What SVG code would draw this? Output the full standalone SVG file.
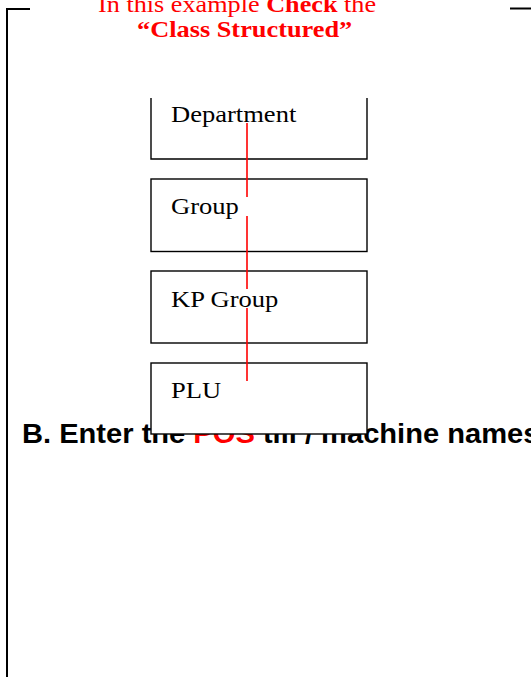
<svg xmlns="http://www.w3.org/2000/svg" width="531" height="677" viewBox="0 0 531 677">
<style>
.box{fill:#fff;stroke:#000;stroke-width:1.4}
.lbl{font-family:"Liberation Serif","Times New Roman",serif;font-size:22.7px;fill:#000}
.title{font-family:"Liberation Serif","Times New Roman",serif;font-size:22.7px;fill:#f00}
.frame{stroke:#000;stroke-width:2;fill:none}
.conn{stroke:#f00;stroke-width:1.6;fill:none}
.head{font-family:"Liberation Sans",Arial,sans-serif;font-weight:bold;font-size:27px;fill:#000}
</style>
<rect width="531" height="677" fill="#fff"/>
<g id="frame">
<path class="frame" d="M30,9 H7 V677"/>
<path class="frame" d="M510,8.5 H531"/>
</g>
<g id="title">
<text class="title" transform="translate(98,11.5) scale(1.155,1)">In this example <tspan font-weight="bold">Check</tspan> the</text>
<text class="title" font-weight="bold" transform="translate(137,37.3) scale(1.16,1)">“Class Structured”</text>
</g>
<g id="heading">
<text class="head" transform="translate(22,443) scale(1.078,1)">B. Enter the <tspan fill="#f00">POS</tspan> till / machine names</text>
</g>
<g id="department">
<path class="box" d="M151,98 V159 H367 V98"/>
<text class="lbl" transform="translate(171,122) scale(1.17,1)">Department</text>
</g>
<g id="group">
<rect class="box" x="151" y="179" width="216" height="72.5"/>
<text class="lbl" transform="translate(171,214) scale(1.17,1)">Group</text>
</g>
<g id="kpgroup">
<rect class="box" x="151" y="271" width="216" height="72"/>
<text class="lbl" transform="translate(171,307) scale(1.17,1)">KP Group</text>
</g>
<g id="plu">
<rect class="box" x="151" y="363" width="216" height="71"/>
<text class="lbl" transform="translate(171,398) scale(1.17,1)">PLU</text>
</g>
<g id="connectors">
<line class="conn" x1="247" y1="123" x2="247" y2="197"/>
<line class="conn" x1="247" y1="216" x2="247" y2="289"/>
<line class="conn" x1="247" y1="308" x2="247" y2="381"/>
</g>
</svg>
